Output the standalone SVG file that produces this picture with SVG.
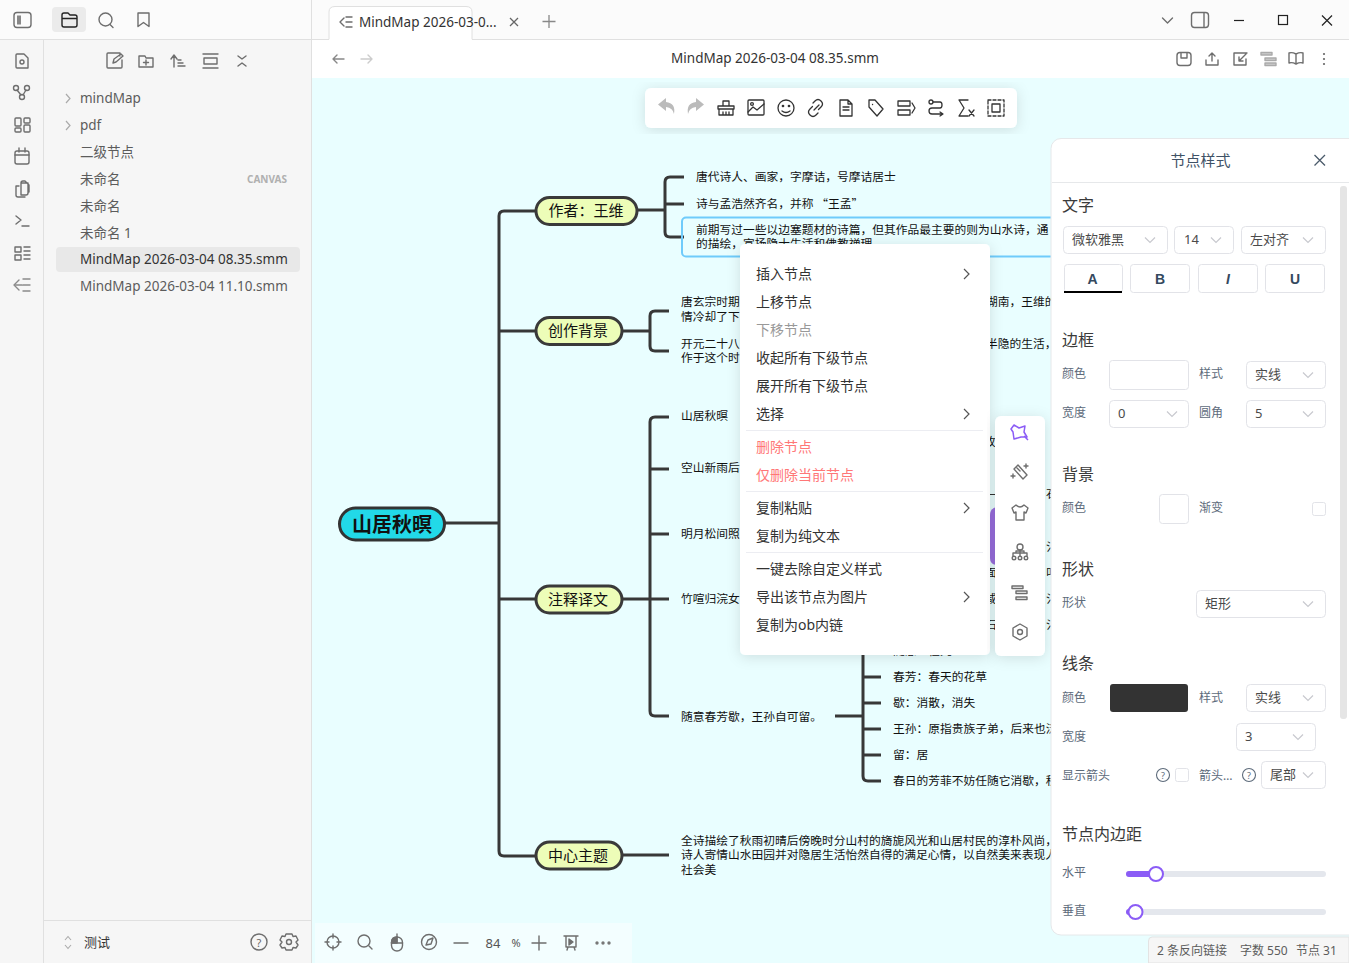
<svg xmlns="http://www.w3.org/2000/svg" width="1349" height="963" viewBox="0 0 1349 963">
<style>
text{font-family:"Noto Sans","Noto Sans CJK SC",sans-serif;dominant-baseline:central}
.leaf{font-size:11.76px;fill:#111;transform:translateY(-.6px)}
.lvl1{font-size:15px;fill:#111;text-anchor:middle;transform:translateY(-1px)}
.b1{fill:#edfdb8;stroke:#3a3a3a;stroke-width:3}
.conn{fill:none;stroke:#383838;stroke-width:3}
.ic{fill:none;stroke:#6e6e6e;stroke-width:1.4;stroke-linecap:round;stroke-linejoin:round}
.icd{fill:none;stroke:#444;stroke-width:1.4;stroke-linecap:round;stroke-linejoin:round}
.ica{fill:none;stroke:#333;stroke-width:1.3;stroke-linecap:round;stroke-linejoin:round}
.tree{font-size:13.5px;fill:#5c5c5c}
.mi{font-size:14px;fill:#333;transform:translateY(-1px)}
.sep{stroke:#ecedf2;stroke-width:1.2}
.mch{fill:none;stroke:#555;stroke-width:1.2}
.h{font-size:16px;fill:#3a3a3a}
.l{font-size:12px;fill:#5d6b7b}
.v{font-size:13px;fill:#4a4a4a}
.sel{fill:#fff;stroke:#e2e3e8;stroke-width:1}
.ch{fill:none;stroke:#c8c9cf;stroke-width:1.2}
.bi{font-size:14px;font-weight:700;fill:#34495e;text-anchor:middle;font-family:"Liberation Sans",sans-serif}
</style>
<defs>
<filter id="sh" x="-15%" y="-15%" width="130%" height="130%"><feDropShadow dx="0" dy="2" stdDeviation="7" flood-color="#000" flood-opacity=".12"/></filter>
<path id="chev" d="M-5 -2.500L0 2.500L5 -2.500"/>
</defs>

<rect width="1349" height="963" fill="#fff"/>
<rect x="312" y="78" width="1037" height="885" fill="#e9feff"/>
<rect x="0" y="0" width="1349" height="39" fill="#fbfbfb"/>
<rect x="0" y="40" width="311" height="923" fill="#f6f6f6"/>
<path d="M0 39.500H329M472 39.500H1349M43.500 40V963M311.500 0V963" stroke="#e0e0e0" fill="none"/>
<path d="M44 920.500H311" stroke="#e0e0e0"/>

<g id="connectors">
<path class="conn" d="M445 523H499"/>
<path class="conn" d="M535 211H504Q499 211 499 216V851Q499 856 504 856H535"/>
<path class="conn" d="M499 331H535M499 599H535"/>
<path class="conn" d="M638 210H665M684 177H670Q665 177 665 182V232Q665 237 670 237H684M665 204H684"/>
<path class="conn" d="M622 331H650M669 311H655Q650 311 650 316V346Q650 351 655 351H669"/>
<path class="conn" d="M622 599H669M669 417H655Q650 417 650 422V711Q650 716 655 716H669M650 469H669M650 534H669"/>
<path class="conn" d="M835 716H863M863 640V776Q863 781 868 781H881M863 677H881M863 703H881M863 729H881M863 755H881"/>
<path class="conn" d="M622 855H669"/>
</g>

<g id="n-root"><rect x="339.500" y="508" width="105" height="32" rx="16" fill="#22d9e8" stroke="#333" stroke-width="3"/><text x="392" y="524" text-anchor="middle" font-size="20" font-weight="700" fill="#111">山居秋暝</text></g>
<g id="n-author"><rect class="b1" x="536" y="197.500" width="101" height="27" rx="13.500"/><text class="lvl1" x="586" y="211">作者：王维</text></g>
<g id="n-bg"><rect class="b1" x="536" y="317.500" width="86" height="27" rx="13.500"/><text class="lvl1" x="578" y="331">创作背景</text></g>
<g id="n-notes"><rect class="b1" x="536" y="586" width="86" height="27" rx="13.500"/><text class="lvl1" x="578" y="600">注释译文</text></g>
<g id="n-theme"><rect class="b1" x="536" y="842" width="86" height="27" rx="13.500"/><text class="lvl1" x="578" y="856">中心主题</text></g>

<g id="n-a1"><text class="leaf" x="696" y="177">唐代诗人、画家，字摩诘，号摩诘居士</text></g>
<g id="n-a2"><text class="leaf" x="696" y="203" style="font-family:'Noto Sans CJK SC',sans-serif">诗与孟浩然齐名，并称 “王孟”</text></g>
<g id="n-a3"><rect x="682" y="217.500" width="400" height="39" rx="4" fill="none" stroke="#6fcbfb" stroke-width="2"/><text class="leaf" x="696" y="230">前期写过一些以边塞题材的诗篇，但其作品最主要的则为山水诗，通</text><text class="leaf" x="696" y="244">的描绘，宣扬隐士生活和佛教禅理</text></g>
<g id="n-b1"><text class="leaf" x="681" y="302">唐玄宗时期</text><text class="leaf" x="681" y="317">情冷却了下</text><text class="leaf" x="986" y="302">湖南，王维的</text></g>
<g id="n-b2"><text class="leaf" x="681" y="344">开元二十八</text><text class="leaf" x="681" y="358">作于这个时</text><text class="leaf" x="986" y="344">半隐的生活，</text></g>
<g id="n-c1"><text class="leaf" x="681" y="416">山居秋暝</text></g>
<g id="n-c2"><text class="leaf" x="681" y="468">空山新雨后</text></g>
<g id="n-c3"><text class="leaf" x="681" y="534">明月松间照</text></g>
<g id="n-c4"><text class="leaf" x="681" y="599">竹喧归浣女</text></g>
<g id="n-c5"><text class="leaf" x="681" y="717">随意春芳歇，王孙自可留。</text></g>
<g id="n-d0"><text class="leaf" x="893" y="651">随意：任凭</text></g>
<g id="n-d1"><text class="leaf" x="893" y="677">春芳：春天的花草</text></g>
<g id="n-d2"><text class="leaf" x="893" y="703">歇：消散，消失</text></g>
<g id="n-d3"><text class="leaf" x="893" y="729">王孙：原指贵族子弟，后来也泛</text></g>
<g id="n-d4"><text class="leaf" x="893" y="755">留：居</text></g>
<g id="n-d5"><text class="leaf" x="893" y="781">春日的芳菲不妨任随它消歇，秋</text></g>
<g id="n-e1"><text class="leaf" x="681" y="841">全诗描绘了秋雨初晴后傍晚时分山村的旖旎风光和山居村民的淳朴风尚，</text><text class="leaf" x="681" y="855">诗人寄情山水田园并对隐居生活怡然自得的满足心情，以自然美来表现人</text><text class="leaf" x="681" y="870">社会美</text></g>
<g id="frag"><text class="leaf" x="984" y="442">孜</text><text class="leaf" x="1046" y="494">石</text><text class="leaf" x="1046" y="547">氵</text><text class="leaf" x="985" y="573">面</text><text class="leaf" x="1046" y="573">叫</text><text class="leaf" x="985" y="599">咸</text><text class="leaf" x="1046" y="599">氵</text><text class="leaf" x="985" y="625">石</text><text class="leaf" x="1046" y="625">氵</text><rect x="990" y="494" width="5" height="1" fill="#333"/><path d="M996 507Q990 509 990 515V558Q990 564 996 565Z" fill="#9a6fe0"/></g>

<g id="map-toolbar">
<rect x="645" y="88" width="372" height="40" rx="6" fill="#fff" filter="url(#sh)"/>
<path d="M674 114Q673 108 666 107V111L658 104.500L666 98V102Q676 103 674 114Z" fill="#bbb"/>
<path d="M688 114Q689 108 696 107V111L704 104.500L696 98V102Q686 103 688 114Z" fill="#bbb"/>
<g class="ica"><path d="M718 106H734V109H718ZM719 109V115H733V109M723 106V101H729V106M723 112V115M726 112V115M729 112V115"/>
<rect x="748" y="100" width="16" height="15" rx="1"/><path d="M748 112L753 107L757 110L764 104"/><circle cx="752" cy="104" r="1.400"/>
<circle cx="786" cy="108" r="8"/><circle cx="783" cy="106" r=".7"/><circle cx="789" cy="106" r=".7"/><path d="M782 111Q786 114 790 111"/>
<path d="M814 110L819 105M812.500 106.500L810 109Q807 112 810 115Q813 118 816 115L818 113M818.500 109.500L821 107Q824 104 821 101Q818 98 815 101L813 103"/>
<path d="M840 100H848L852 104V116H840ZM848 100V104H852M843 107H849M843 110H849"/>
<path d="M869 100H875L883 109L877 116L869 107ZM872.500 104.500h.1"/>
<path d="M898 101H910V106H898ZM898 110H910V115H898ZM912 103L915 108L912 113"/>
<circle cx="931" cy="102" r="2"/><path d="M933 102H940Q942 102 942 105Q942 108 940 108H932Q929 108 929 111Q929 114 932 114H942M940 112L943 114L940 116"/>
<path d="M968 100H959L964 108L959 116H968"/><path d="M969 110L974 116M974 110L969 116"/>
<path d="M988 100H1004V116H988Z" stroke-dasharray="3 2"/><rect x="992" y="104" width="8" height="8"/></g>
</g>

<g id="context-menu">
<rect x="740" y="244" width="250" height="411" rx="5" fill="#fff" filter="url(#sh)"/>
<text class="mi" x="756" y="274">插入节点</text><text class="mi" x="756" y="302">上移节点</text><text class="mi" x="756" y="330" style="fill:#999">下移节点</text><text class="mi" x="756" y="358">收起所有下级节点</text><text class="mi" x="756" y="386">展开所有下级节点</text><text class="mi" x="756" y="414">选择</text>
<text class="mi" x="756" y="447" style="fill:#f77">删除节点</text><text class="mi" x="756" y="475" style="fill:#f77">仅删除当前节点</text>
<text class="mi" x="756" y="508">复制粘贴</text><text class="mi" x="756" y="536">复制为纯文本</text>
<text class="mi" x="756" y="569">一键去除自定义样式</text><text class="mi" x="756" y="597">导出该节点为图片</text><text class="mi" x="756" y="625">复制为ob内链</text>
<path class="sep" d="M746 430.500H983M746 491.500H983M746 552.500H983"/>
<path class="mch" d="M964 269L969 274L964 279M964 409L969 414L964 419M964 503L969 508L964 513M964 592L969 597L964 602"/>
</g>

<g id="side-tools">
<rect x="995" y="416" width="50" height="240" rx="6" fill="#fff" filter="url(#sh)"/>
<path d="M1014 425L1019 428L1025 426L1024 432L1027 437L1021 437L1014 439L1013 432L1011 429ZM1024 436L1028 440" fill="none" stroke="#8b5cf6" stroke-width="1.500" stroke-linejoin="round"/>
<g class="ic"><path d="M1014 469L1018 465L1027 475L1023 479ZM1017 468L1020 471M1026 464v4M1024 466h4M1013 474v4M1011 476h4"/>
<path d="M1016 505L1012 508L1014 513L1016 512V520H1024V512L1026 513L1028 508L1024 505Q1020 509 1016 505Z"/>
<circle cx="1020" cy="547" r="3"/><path d="M1016 553V551H1024V553M1013 556V553H1027V556M1020 550V556"/><circle cx="1014" cy="558" r="1.800"/><circle cx="1020" cy="558" r="1.800"/><circle cx="1026" cy="558" r="1.800"/>
<rect x="1012" y="586" width="11" height="2.500"/><rect x="1016" y="591" width="11" height="2.500"/><rect x="1016" y="597" width="11" height="2.500"/>
<path d="M1020 624L1027 628V636L1020 640L1013 636V628Z"/><circle cx="1020" cy="632" r="2.500"/></g>
</g>

<g id="map-bottom">
<rect x="315" y="923" width="317" height="40" fill="#f3feff"/>
<g class="ic"><circle cx="333" cy="942" r="6"/><path d="M333 934V938M333 946V950M325 942H329M337 942H341"/><circle cx="364" cy="941" r="6"/><path d="M369 946L372 949"/><rect x="391.500" y="937" width="11" height="14" rx="5.500"/><path d="M397 943V934M391.500 943H402.500"/><path d="M391.500 943V942.500Q391.500 937 397 937V943Z" fill="#6e6e6e"/><circle cx="429" cy="942" r="7.500"/><path d="M426 945L428 940L433 938L431 944Z"/><path d="M454 943H468M532 943H546M539 936V950"/><path d="M564 936H578M566 936V947H576V936M567 950L568 947M575 950L574 947"/><path d="M569 939L573 942L569 945Z" fill="#6e6e6e"/></g>
<circle cx="597" cy="943" r="1.700" fill="#777"/><circle cx="603" cy="943" r="1.700" fill="#777"/><circle cx="609" cy="943" r="1.700" fill="#777"/>
<text x="493" y="943" font-size="13" fill="#555" text-anchor="middle">84</text><text x="516" y="942" font-size="11" fill="#555" text-anchor="middle">%</text>
</g>

<g id="panel">
<rect x="1051" y="138.500" width="320" height="796.500" rx="10" fill="#fff" stroke="#e6e8ea"/>
<path d="M1052 182.500H1349" stroke="#e6e8ea"/>
<text x="1200.500" y="160" font-size="15" fill="#3f5266" text-anchor="middle">节点样式</text>
<path d="M1314.500 155L1325 165.500M1325 155L1314.500 165.500" fill="none" stroke="#4a5a6a" stroke-width="1.300"/>
<rect x="1340" y="186" width="7" height="533" rx="3" fill="#e5e5e5"/>
<text class="h" x="1062" y="205">文字</text><text class="h" x="1062" y="340">边框</text><text class="h" x="1062" y="474">背景</text><text class="h" x="1062" y="569">形状</text><text class="h" x="1062" y="663">线条</text><text class="h" x="1062" y="834">节点内边距</text>
<rect class="sel" x="1063.500" y="226.500" width="104" height="27" rx="4"/><rect class="sel" x="1174.500" y="226.500" width="59" height="27" rx="4"/><rect class="sel" x="1241.500" y="226.500" width="84" height="27" rx="4"/>
<text class="v" x="1072" y="239">微软雅黑</text><text class="v" x="1184" y="239">14</text><text class="v" x="1250" y="239">左对齐</text>
<rect class="sel" x="1064.500" y="264.500" width="58" height="28" rx="3"/><rect class="sel" x="1130.500" y="264.500" width="59" height="28" rx="3"/><rect class="sel" x="1198.500" y="264.500" width="59" height="28" rx="3"/><rect class="sel" x="1265.500" y="264.500" width="59" height="28" rx="3"/>
<path d="M1064 292H1122" stroke="#000" stroke-width="2"/>
<text class="bi" x="1092.500" y="279">A</text><text class="bi" x="1160" y="279">B</text><text class="bi" x="1228" y="279" font-style="italic">I</text><text class="bi" x="1295" y="279">U</text>
<text class="l" x="1062" y="373">颜色</text><rect class="sel" x="1109.500" y="360.500" width="79" height="29" rx="3"/><text class="l" x="1199" y="373">样式</text><rect class="sel" x="1246.500" y="361.500" width="79" height="27" rx="4"/><text class="v" x="1255" y="374">实线</text>
<text class="l" x="1062" y="412">宽度</text><rect class="sel" x="1109.500" y="400.500" width="79" height="27" rx="4"/><text class="v" x="1118" y="413">0</text><text class="l" x="1199" y="412">圆角</text><rect class="sel" x="1246.500" y="400.500" width="79" height="27" rx="4"/><text class="v" x="1255" y="413">5</text>
<text class="l" x="1062" y="507">颜色</text><rect class="sel" x="1159.500" y="494.500" width="29" height="29" rx="3"/><text class="l" x="1199" y="507">渐变</text><rect class="sel" x="1312.500" y="502.500" width="13" height="13" rx="2"/>
<text class="l" x="1062" y="602">形状</text><rect class="sel" x="1196.500" y="590.500" width="129" height="27" rx="4"/><text class="v" x="1205" y="603">矩形</text>
<text class="l" x="1062" y="697">颜色</text><rect x="1110" y="684" width="78" height="28" rx="3" fill="#333"/><text class="l" x="1199" y="697">样式</text><rect class="sel" x="1246.500" y="684.500" width="79" height="27" rx="4"/><text class="v" x="1255" y="697">实线</text>
<text class="l" x="1062" y="736">宽度</text><rect class="sel" x="1236.500" y="723.500" width="79" height="27" rx="4"/><text class="v" x="1245" y="736">3</text>
<text class="l" x="1062" y="775">显示箭头</text><text class="l" x="1199" y="775">箭头…</text>
<circle cx="1163" cy="775" r="6.500" fill="none" stroke="#5d6b7b" stroke-width="1.100"/><circle cx="1249" cy="775" r="6.500" fill="none" stroke="#5d6b7b" stroke-width="1.100"/>
<text x="1163" y="775" font-size="9" fill="#5d6b7b" text-anchor="middle">?</text><text x="1249" y="775" font-size="9" fill="#5d6b7b" text-anchor="middle">?</text>
<rect class="sel" x="1175.500" y="768.500" width="13" height="13" rx="2"/><rect class="sel" x="1261.500" y="761.500" width="64" height="27" rx="4"/><text class="v" x="1270" y="774">尾部</text>
<g class="ch"><use href="#chev" x="1150" y="240"/><use href="#chev" x="1216" y="240"/><use href="#chev" x="1308" y="240"/><use href="#chev" x="1308" y="375"/><use href="#chev" x="1172" y="414"/><use href="#chev" x="1308" y="414"/><use href="#chev" x="1308" y="604"/><use href="#chev" x="1308" y="698"/><use href="#chev" x="1298" y="737"/><use href="#chev" x="1308" y="775"/></g>
<text class="l" x="1062" y="872">水平</text><text class="l" x="1062" y="910">垂直</text>
<rect x="1126" y="871" width="200" height="6" rx="3" fill="#e4e7ed"/><rect x="1126" y="871" width="30" height="6" rx="3" fill="#8b5cf6"/><circle cx="1156" cy="874" r="7" fill="#fff" stroke="#8b5cf6" stroke-width="2"/>
<rect x="1126" y="909" width="200" height="6" rx="3" fill="#e4e7ed"/><rect x="1126" y="909" width="9" height="6" rx="3" fill="#8b5cf6"/><circle cx="1135.500" cy="912" r="7" fill="#fff" stroke="#8b5cf6" stroke-width="2"/>
</g>
<g id="status"><path d="M1148.500 963V941Q1148.500 937 1152 937H1349V963Z" fill="#f6f6f6" stroke="#e3e3e3"/><text x="1157" y="950" font-size="12" fill="#5c5c5c">2 条反向链接</text><text x="1240" y="950" font-size="12" fill="#5c5c5c">字数 550</text><text x="1296" y="950" font-size="12" fill="#5c5c5c">节点 31</text></g>

<g id="titlebar">
<path d="M329 40V12Q329 6.500 335 6.500H466Q472 6.500 472 12V40" fill="#fff" stroke="#e0e0e0"/>
<path d="M329 40H472" stroke="#fff" stroke-width="1.500"/>
<g class="ic"><path d="M344 18L340 22L344 26M346 17H352M346 22H352M346 27H352"/></g>
<text x="359" y="22" font-size="13.500" fill="#333">MindMap 2026-03-0...</text>
<path d="M510 18L518 26M518 18L510 26" stroke="#666" stroke-width="1.300" fill="none"/>
<path d="M549 15V28M542.500 21.500H555.500" stroke="#888" stroke-width="1.300" fill="none"/>
<path d="M333 59H344M333 59L337 55M333 59L337 63" class="ic" style="stroke:#888"/><path d="M361 59H372M372 59L368 55M372 59L368 63" class="ic" style="stroke:#ccc"/>
<text x="775" y="58" font-size="13.500" fill="#333" text-anchor="middle">MindMap 2026-03-04 08.35.smm</text>
<g class="ic"><rect x="1177" y="52.500" width="14" height="13" rx="3"/><path d="M1181 53V58H1187V53"/><path d="M1212 53V61M1209 56L1212 53L1215 56M1206 60V65H1218V60"/><path d="M1247 53H1234V65H1246V59M1246 54L1239 61M1239 57V61H1243"/><path d="M1261 52.500H1272v2.500h-11ZM1265 58H1276v2.500h-11ZM1265 63H1276v2.500h-11Z" style="stroke:#aaa;fill:#ccc"/><path d="M1296 54Q1292 52 1289 53V63Q1292 62 1296 64Q1300 62 1303 63V53Q1300 52 1296 54ZM1296 54V64"/></g>
<circle cx="1324" cy="54" r="1.100" fill="#666"/><circle cx="1324" cy="59" r="1.100" fill="#666"/><circle cx="1324" cy="64" r="1.100" fill="#666"/>
<path d="M1162.500 18L1167.500 23L1172.500 18" class="ic"/>
<rect x="1191.500" y="12.500" width="17" height="15" rx="3" class="ic"/><path d="M1204 13V27" class="ic"/>
<path d="M1234 20.500H1244" stroke="#222" stroke-width="1.200"/><rect x="1278.500" y="15.500" width="9" height="9" fill="none" stroke="#222" stroke-width="1.200"/>
<path d="M1322 15.500L1332 25.500M1332 15.500L1322 25.500" stroke="#222" stroke-width="1.200"/>
<rect x="52" y="7" width="34" height="25" rx="4" fill="#ebebeb"/>
<g class="ic"><rect x="14" y="12.500" width="17" height="15" rx="3"/><rect x="17" y="15.500" width="4" height="9" fill="#888" stroke="none"/><circle cx="105.500" cy="19.500" r="6.500"/><path d="M110 24.500L113 27.500"/><path d="M138 13H149V26.500L143.500 22.500L138 26.500Z"/></g>
<path d="M62 25V15Q62 13 64 13H68L70 15H75Q77 15 77 17V25Q77 27 75 27H64Q62 27 62 25ZM62 18.500H77" class="icd" style="stroke:#222"/>
</g>

<g id="rail"><g class="ic">
<path d="M17 54H24L28 58V68H17Q16 68 16 67V55Q16 54 17 54Z"/><circle cx="22" cy="62" r="2"/>
<circle cx="16" cy="88" r="2.500"/><circle cx="27" cy="88" r="2.500"/><circle cx="22" cy="97" r="2.500"/><path d="M17 90L21 95M26 90L23 95"/>
<rect x="15" y="118" width="6" height="8" rx="1"/><rect x="24" y="118" width="6" height="5" rx="1"/><rect x="15" y="128" width="6" height="4" rx="1"/><rect x="24" y="125" width="6" height="7" rx="1"/>
<rect x="15" y="151" width="14" height="13" rx="2"/><path d="M15 155H29M19 148V152M25 148V152"/>
<path d="M21 183H28V193Q28 195 26 195H21ZM19 186H16V195Q16 197 18 197H25M21 183Q21 181 23 181H25L29 185V192"/>
<path d="M16 216L21 220L16 224M22 226H29"/>
<rect x="15" y="247" width="6" height="5"/><rect x="15" y="255" width="6" height="5"/><path d="M24 247H30M24 251H30M24 255H30M24 259H30"/>
<path d="M19 280L14 285L19 290M16 285H22M23 279H30M23 285H30M23 291H30" style="stroke:#8a8a8a"/>
</g></g>
<g id="file-tools"><g class="ic"><path d="M120 56V53H108Q107 53 107 54V67Q107 68 108 68H121Q122 68 122 67V60M113 63L114 59L121 54L123 56L116 62Z"/><path d="M139 56H145L146 58H153V67H139ZM146 60V65M143.500 62.500H148.500"/><path d="M174 56V67M171 59L174 55L177 59M178 60H181M178 63H183M178 66H185"/><path d="M203 54H218M203 68H218M204 58H217V64H204Z"/><path d="M238 56L242 59L246 56M238 66L242 63L246 66"/></g></g>
<g id="tree">
<path d="M66 94L70 98.500L66 103M66 121L70 125.500L66 130" fill="none" stroke="#aaa" stroke-width="1.200"/>
<rect x="56" y="247" width="244" height="25" rx="4" fill="#e8e8e8"/>
<text class="tree" x="80" y="98">mindMap</text><text class="tree" x="80" y="125">pdf</text><text class="tree" x="80" y="152">二级节点</text><text class="tree" x="80" y="179">未命名</text><text x="247" y="179" font-size="10" font-weight="700" fill="#b0b0b0">CANVAS</text><text class="tree" x="80" y="206">未命名</text><text class="tree" x="80" y="233">未命名 1</text><text class="tree" x="80" y="259" style="fill:#333">MindMap 2026-03-04 08.35.smm</text><text class="tree" x="80" y="286">MindMap 2026-03-04 11.10.smm</text>
<path d="M65 940L68 936.500L71 940M65 945L68 948.500L71 945" fill="none" stroke="#aaa" stroke-width="1.100"/>
<text x="84" y="942" font-size="13" fill="#333">测试</text>
<g class="ic"><circle cx="259" cy="942" r="8"/><circle cx="289" cy="942" r="2.500"/><path d="M286 934H292L293 936.500L296 936L298 940L296 942L298 945L296 948L293 947.500L292 950H286L285 947.500L282 948L280 945L282 942L280 940L282 936L285 936.500Z"/></g>
<text x="259" y="942" font-size="11" fill="#666" text-anchor="middle">?</text>
</g>
</svg>
